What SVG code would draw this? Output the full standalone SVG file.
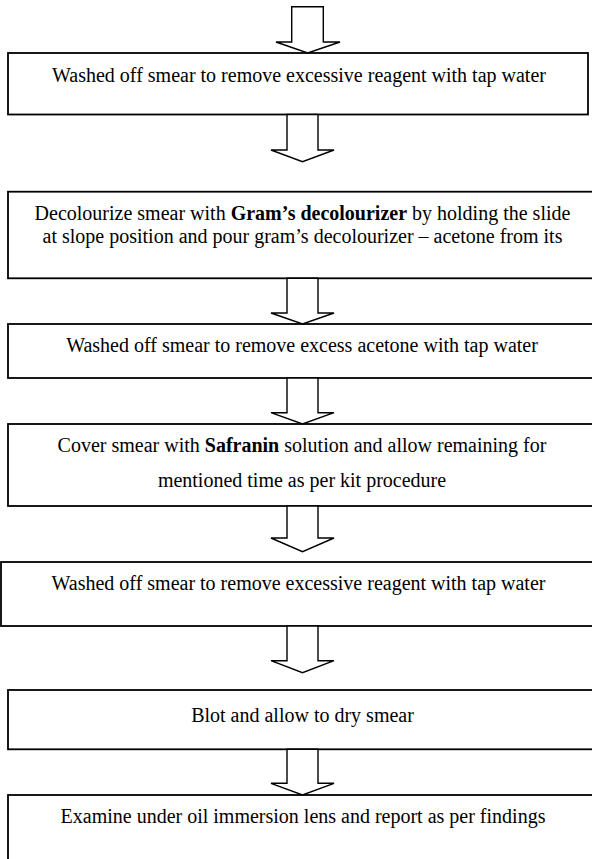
<svg xmlns="http://www.w3.org/2000/svg" width="592" height="859" viewBox="0 0 592 859">
<style>
.box{fill:#fff;stroke:#000;stroke-width:1.8}
.arr{fill:#fff;stroke:#000;stroke-width:1.4;stroke-linejoin:miter}
text{font-family:"Liberation Serif","Times New Roman",serif;font-size:20px;fill:#000;text-anchor:middle}
.b{font-weight:bold}
</style>
<rect width="592" height="859" fill="#fff"/>
<g id="step1">
<rect class="box" x="8" y="53" width="580" height="61.5"/>
<text x="299" y="82">Washed off smear to remove excessive reagent with tap water</text>
</g>
<g id="step2">
<rect class="box" x="8" y="191.7" width="600" height="86.6"/>
<text x="302.5" y="220">Decolourize smear with <tspan class="b">Gram’s decolourizer</tspan> by holding the slide</text>
<text x="302.5" y="243">at slope position and pour gram’s decolourizer – acetone from its</text>
</g>
<g id="step3">
<rect class="box" x="8" y="324" width="600" height="54"/>
<text x="302" y="352">Washed off smear to remove excess acetone with tap water</text>
</g>
<g id="step4">
<rect class="box" x="8" y="424" width="600" height="82"/>
<text x="302" y="451.5">Cover smear with <tspan class="b">Safranin</tspan> solution and allow remaining for</text>
<text x="302" y="486.5">mentioned time as per kit procedure</text>
</g>
<g id="step5">
<rect class="box" x="1" y="562" width="607" height="64"/>
<text x="298.5" y="589.5">Washed off smear to remove excessive reagent with tap water</text>
</g>
<g id="step6">
<rect class="box" x="8" y="690" width="600" height="59.3"/>
<text x="302.5" y="721.5">Blot and allow to dry smear</text>
</g>
<g id="step7">
<rect class="box" x="8" y="795" width="600" height="80"/>
<text x="303" y="822.5">Examine under oil immersion lens and report as per findings</text>
</g>
<g id="connectors">
<polygon class="arr" points="291.7,6.7 323.3,6.7 323.3,42 340,42 307.7,53 276,42 291.7,42"/>
<polygon class="arr" points="287,114.5 318,114.5 318,150 334,150 302.5,161.7 271,150 287,150"/>
<polygon class="arr" points="287,278.3 318,278.3 318,313 334,313 302.5,324 271,313 287,313"/>
<polygon class="arr" points="287,378 318,378 318,412.7 334,412.7 302.5,424 271,412.7 287,412.7"/>
<polygon class="arr" points="287,506 318,506 318,538 334,538 302.5,551.7 271,538 287,538"/>
<polygon class="arr" points="287,626 318,626 318,660.7 334,660.7 302.5,672.7 271,660.7 287,660.7"/>
<polygon class="arr" points="287,749.3 318,749.3 318,783.3 334,783.3 302.5,795 271,783.3 287,783.3"/>
</g>
</svg>
